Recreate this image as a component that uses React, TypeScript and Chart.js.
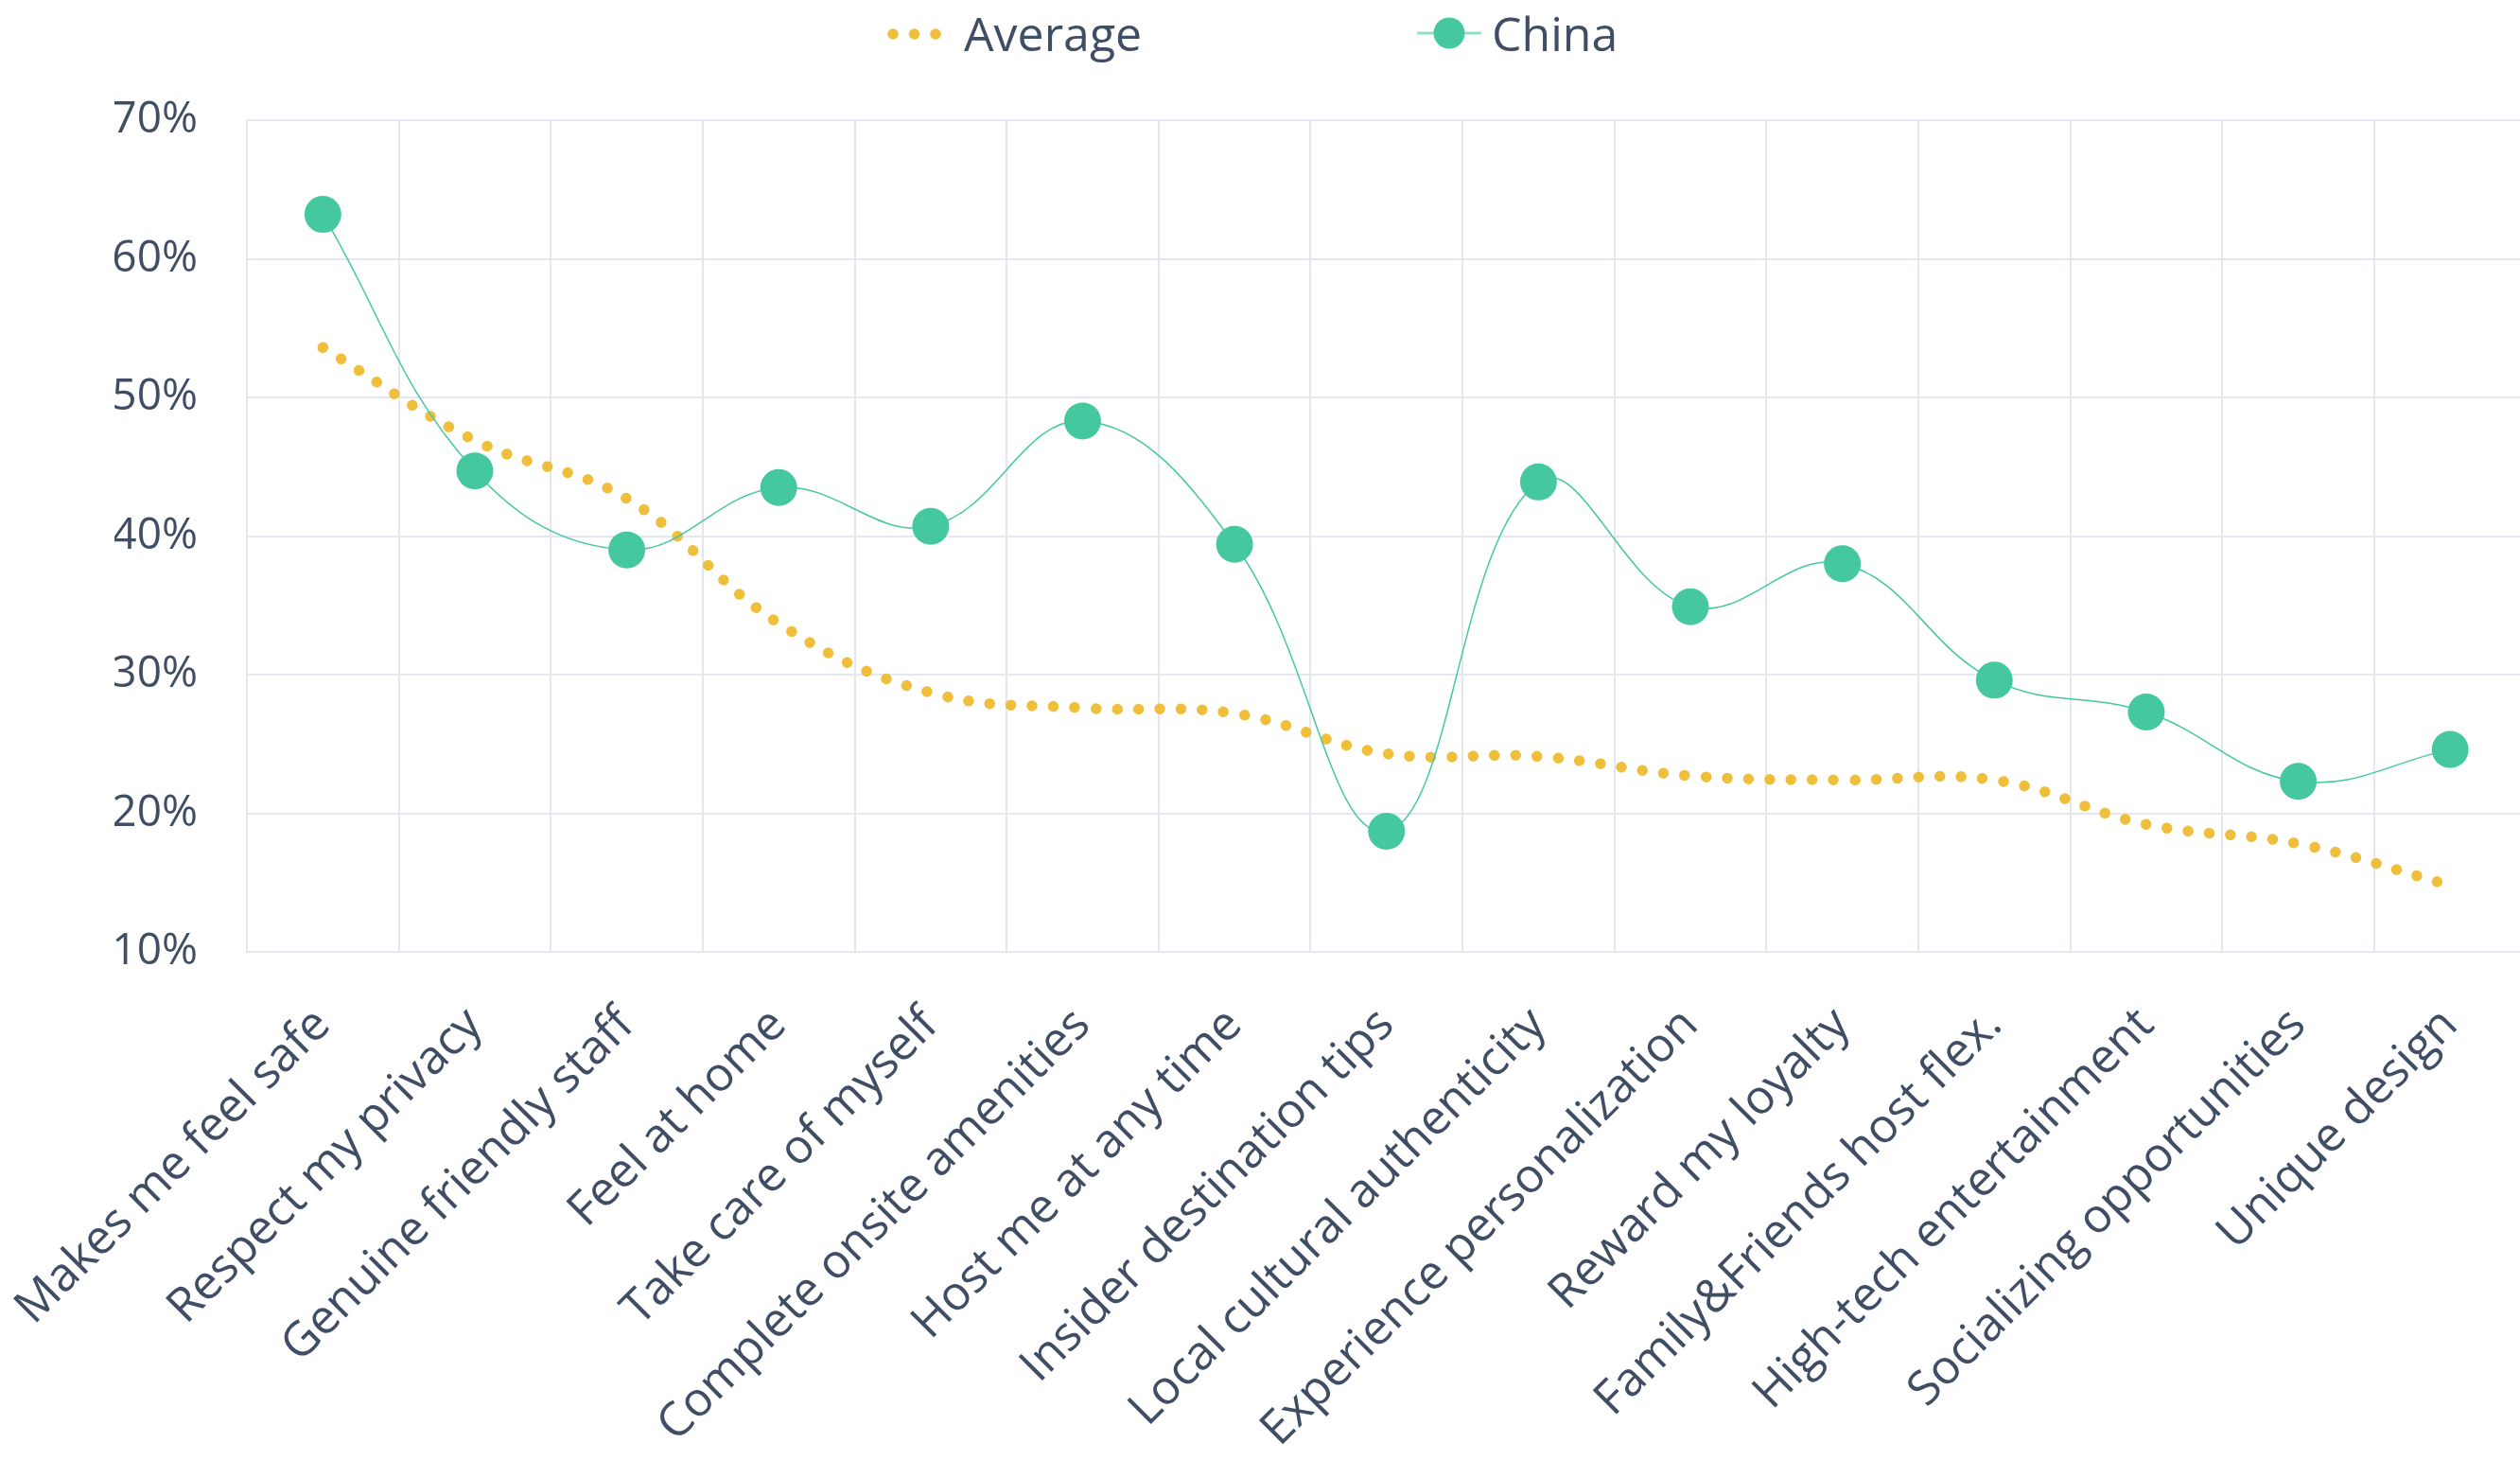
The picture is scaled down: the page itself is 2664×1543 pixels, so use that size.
import React, { useEffect, useRef } from 'react';
import { Chart, registerables } from 'chart.js';

Chart.register(...registerables);

const categories = [
  'Makes me feel safe',
  'Respect my privacy',
  'Genuine friendly staff',
  'Feel at home',
  'Take care of myself',
  'Complete onsite amenities',
  'Host me at any time',
  'Insider destination tips',
  'Local cultural authenticity',
  'Experience personalization',
  'Reward my loyalty',
  'Family&Friends host flex.',
  'High-tech entertainment',
  'Socializing opportunities',
  'Unique design',
];

const averageValues = [53.6, 46.9, 42.7, 33.7, 28.7, 27.6, 27.2, 24.3, 24.1, 22.7, 22.4, 22.4, 19.2, 17.8, 14.8];
const chinaValues = [63.2, 44.7, 39.0, 43.5, 40.7, 48.3, 39.4, 18.7, 43.9, 34.9, 38.0, 29.6, 27.3, 22.3, 24.6];
const yTickValues = [10, 20, 30, 40, 50, 60, 70];
const seriesLabels = ['Average', 'China'];

const TEXT_COLOR = '#3F4E64';
const GRID_COLOR = '#E3E7EE';
const GREEN = '#45C8A0';
const GREEN_LINE = '#45C8A0';
const GREEN_LEGEND_LINE = '#8FDFC5';
const YELLOW = '#EFBF3C';
const FONT = '"Open Sans", "Noto Sans", sans-serif';

const legendPlugin = {
  id: 'topLegend',
  afterDraw(chart: any) {
    const { ctx } = chart;
    ctx.save();
    ctx.fillStyle = YELLOW;
    [944, 966.5, 989].forEach((x) => {
      ctx.beginPath();
      ctx.arc(x, 36, 5.8, 0, Math.PI * 2);
      ctx.fill();
    });
    ctx.font = `50px ${FONT}`;
    ctx.fillStyle = TEXT_COLOR;
    ctx.textBaseline = 'alphabetic';
    ctx.textAlign = 'left';
    ctx.fillText(seriesLabels[0], 1019, 54);

    ctx.strokeStyle = GREEN_LEGEND_LINE;
    ctx.lineWidth = 3;
    ctx.beginPath();
    ctx.moveTo(1498, 35);
    ctx.lineTo(1566, 35);
    ctx.stroke();
    ctx.fillStyle = GREEN;
    ctx.beginPath();
    ctx.arc(1532, 35, 16.5, 0, Math.PI * 2);
    ctx.fill();
    ctx.fillStyle = TEXT_COLOR;
    ctx.fillText(seriesLabels[1], 1577, 54);
    ctx.restore();
  },
};

export default function App() {
  const canvasRef = useRef<HTMLCanvasElement | null>(null);

  useEffect(() => {
    const canvas = canvasRef.current;
    if (!canvas) return;
    const chart = new Chart(canvas, {
      type: 'line',
      data: {
        labels: categories,
        datasets: [
          {
            label: seriesLabels[0],
            data: averageValues,
            borderColor: YELLOW,
            backgroundColor: YELLOW,
            borderWidth: 11.5,
            borderDash: [0.001, 22.5],
            borderCapStyle: 'round',
            pointRadius: 0,
            pointHoverRadius: 0,
            tension: 0.4,
            fill: false,
            order: 1,
          },
          {
            label: seriesLabels[1],
            data: chinaValues,
            borderColor: GREEN_LINE,
            backgroundColor: GREEN,
            borderWidth: 1.5,
            pointRadius: 19.5,
            pointHoverRadius: 19.5,
            pointBackgroundColor: GREEN,
            pointBorderColor: GREEN,
            pointBorderWidth: 0,
            tension: 0.4,
            fill: false,
            order: 0,
          },
        ],
      },
      options: {
        responsive: false,
        animation: false,
        devicePixelRatio: 1,
        layout: { padding: { left: 121, top: 127, right: 0, bottom: 0 } },
        plugins: {
          legend: { display: false },
          tooltip: { enabled: false },
        },
        scales: {
          x: {
            offset: true,
            grid: { offset: true, color: GRID_COLOR, lineWidth: 2, drawTicks: false },
            border: { display: true, color: GRID_COLOR, width: 2 },
            ticks: {
              autoSkip: false,
              maxRotation: 45,
              minRotation: 45,
              color: TEXT_COLOR,
              font: { family: FONT, size: 50 },
              padding: 48,
            },
            afterFit: (scale: any) => {
              scale.height = 537;
              scale.paddingLeft = 0;
              scale.paddingRight = 0;
            },
          },
          y: {
            min: 10,
            max: 70,
            afterBuildTicks: (scale: any) => {
              scale.ticks = yTickValues.map((v) => ({ value: v }));
            },
            ticks: {
              color: TEXT_COLOR,
              font: { family: FONT, size: 46 },
              padding: 52,
              callback: (v: any) => `${v}%`,
            },
            grid: { color: GRID_COLOR, lineWidth: 2, drawTicks: false },
            border: { display: true, color: GRID_COLOR, width: 2 },
            afterFit: (scale: any) => {
              scale.width = 140;
            },
          },
        },
      },
      plugins: [legendPlugin],
    } as any);
    return () => chart.destroy();
  }, []);

  return (
    <div
      style={{
        position: 'absolute',
        left: 0,
        top: 0,
        width: 2664,
        height: 1543,
        overflow: 'hidden',
        background: '#ffffff',
      }}
    >
      <canvas ref={canvasRef} width={2690} height={1543} style={{ display: 'block' }} />
    </div>
  );
}
